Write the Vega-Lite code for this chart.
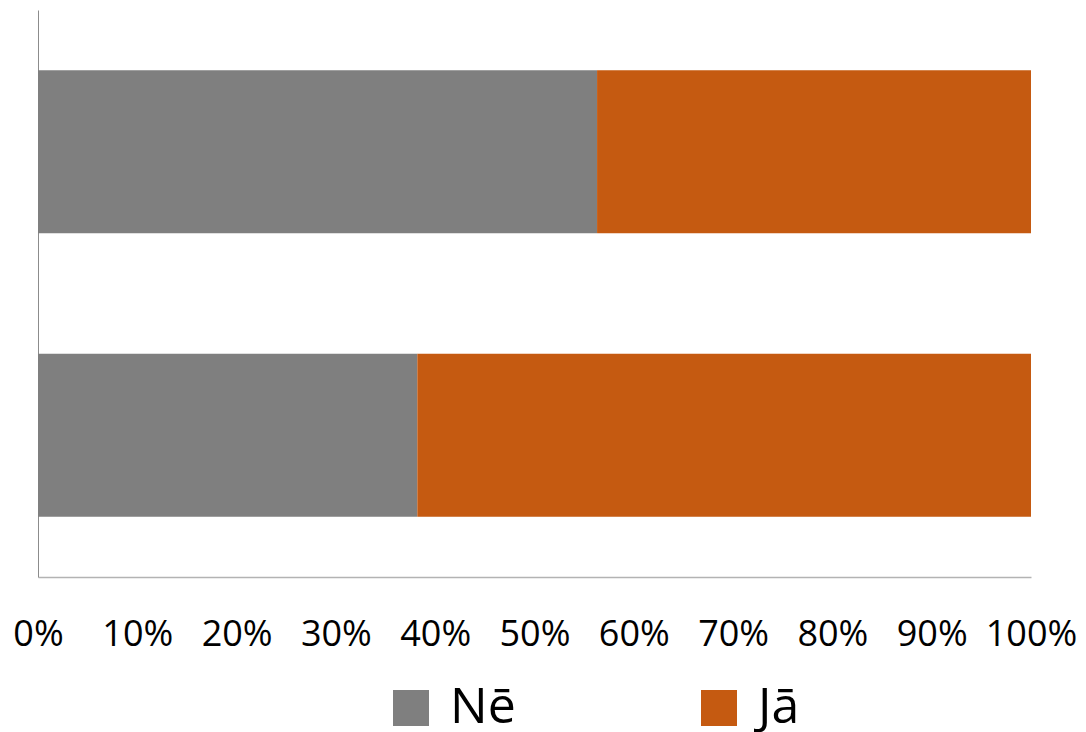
{
  "$schema": "https://vega.github.io/schema/vega-lite/v6.json",
  "width": 993,
  "height": 567,
  "autosize": {"type": "none"},
  "padding": {"left": 38, "top": 10, "right": 55, "bottom": 155},
  "background": "white",
  "config": {"view": {"stroke": null}, "font": "Open Sans"},
  "data": {
    "values": [
      {"row": "1", "answer": "Nē", "idx": 0, "pct": 56.3},
      {"row": "1", "answer": "Jā", "idx": 1, "pct": 43.7},
      {"row": "2", "answer": "Nē", "idx": 0, "pct": 38.2},
      {"row": "2", "answer": "Jā", "idx": 1, "pct": 61.8}
    ]
  },
  "mark": {"type": "bar", "size": 163},
  "encoding": {
    "y": {
      "field": "row", "type": "nominal", "sort": ["1", "2"],
      "axis": {"title": null, "labels": false, "ticks": false, "domain": true, "domainColor": "#8c8c8c", "domainWidth": 1}
    },
    "x": {
      "field": "pct", "type": "quantitative", "stack": "normalize",
      "scale": {"domain": [0, 1], "nice": false},
      "axis": {
        "title": null, "format": ".0%", "values": [0, 0.1, 0.2, 0.3, 0.4, 0.5, 0.6, 0.7, 0.8, 0.9, 1],
        "ticks": false, "grid": false, "domainColor": "#b3b3b3", "domainWidth": 1.5,
        "labelFontSize": 36, "labelColor": "#000000", "labelPadding": 40, "labelFont": "Open Sans",
        "labelFlush": false, "labelOverlap": false
      }
    },
    "color": {
      "field": "answer", "type": "nominal", "sort": ["Nē", "Jā"],
      "scale": {"domain": ["Nē", "Jā"], "range": ["#7f7f7f", "#c55a11"]},
      "legend": {
        "title": null, "orient": "none", "direction": "horizontal",
        "legendX": 348, "legendY": 673,
        "symbolType": "square", "symbolSize": 1296, "symbolStrokeWidth": 0, "symbolOpacity": 1,
        "labelFontSize": 50, "labelColor": "#000000", "labelFont": "Open Sans", "labelOffset": 14,
        "labelBaseline": "middle",
        "columnPadding": 178
      }
    },
    "order": {"field": "idx", "type": "quantitative"}
  }
}
